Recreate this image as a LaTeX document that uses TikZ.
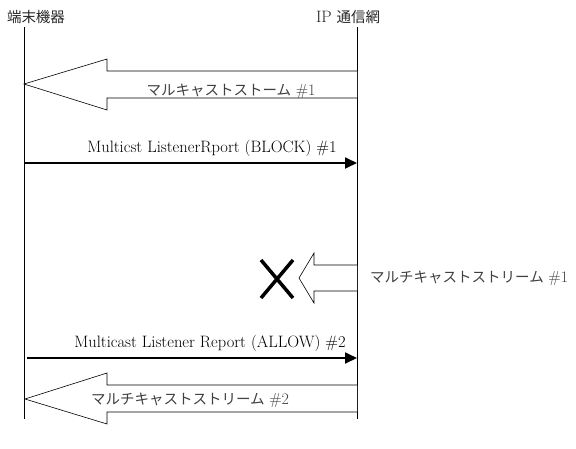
\documentclass[tikz,border=0pt]{standalone}
\usepackage{fontspec}
\newfontfamily\jp{Noto Sans CJK JP}
\usetikzlibrary{arrows.meta}
\begin{document}
\begin{tikzpicture}[x=1pt,y=-1pt,
  lbl/.style={inner sep=0pt, font=\fontsize{16.5}{18}\selectfont},
  jlbl/.style={inner sep=0pt, font=\fontsize{14.5}{17}\selectfont, text=black!75},
  life/.style={line width=0.8pt},
  fat/.style={draw, line width=0.6pt, fill=white, line join=miter},
  msg/.style={line width=1.8pt, -{Triangle[length=12pt,width=11pt]}},
  cross/.style={line width=3.5pt}]
\useasboundingbox (0,0) rectangle (576,448);
% headers
\node[jlbl, text=black!85] (dev) at (36,17) {\jp 端末機器};
\node[jlbl, text=black!85] (net) at (348,17) {{\fontsize{16.5}{18}\selectfont IP} {\jp 通信網}};
% lifelines
\coordinate (devTop) at (24,27);
\coordinate (devBot) at (24,419);
\coordinate (netTop) at (357,27);
\coordinate (netBot) at (357,419);
\draw[life] (devTop) -- (devBot);
\draw[life] (netTop) -- (netBot);
% big arrow 1
\coordinate (t1) at (24,84);
\draw[fat] (357,71) -- (107,71) -- (107,59) -- (t1) -- (107,110) -- (107,98) -- (357,98);
\node[jlbl] (l1) at (231,91) {{\jp マルキャストストーム} {\fontsize{16}{18}\selectfont\#1}};
% message 2
\coordinate (s2) at (24,163);
\coordinate (t2) at (357,163);
\draw[msg] (s2) -- (t2);
\node[lbl] (l2) at (212,148) {Multicst ListenerRport (BLOCK) \#1};
% blocked arrow 3
\coordinate (t3) at (299,278);
\draw[fat] (357,265) -- (314,265) -- (314,253) -- (t3) -- (314,303) -- (314,291) -- (357,291);
\node[jlbl, anchor=west] (l3) at (370,278) {{\jp マルチキャストストリーム} {\fontsize{16}{18}\selectfont\#1}};
\coordinate (xa) at (261,260);
\coordinate (xb) at (293,298);
\coordinate (xc) at (293,260);
\coordinate (xd) at (261,298);
\draw[cross] (xa) -- (xb);
\draw[cross] (xc) -- (xd);
% message 4
\coordinate (s4) at (27,358);
\coordinate (t4) at (357,358);
\draw[msg] (s4) -- (t4);
\node[lbl] (l4) at (210,343) {Multicast Listener Report (ALLOW) \#2};
% big arrow 5
\coordinate (t5) at (25,399);
\draw[fat] (357,385) -- (107,385) -- (107,373) -- (t5) -- (107,424) -- (107,412) -- (357,412);
\node[jlbl] (l5) at (190,400) {{\jp マルチキャストストリーム} {\fontsize{16}{18}\selectfont\#2}};
\end{tikzpicture}
\end{document}
